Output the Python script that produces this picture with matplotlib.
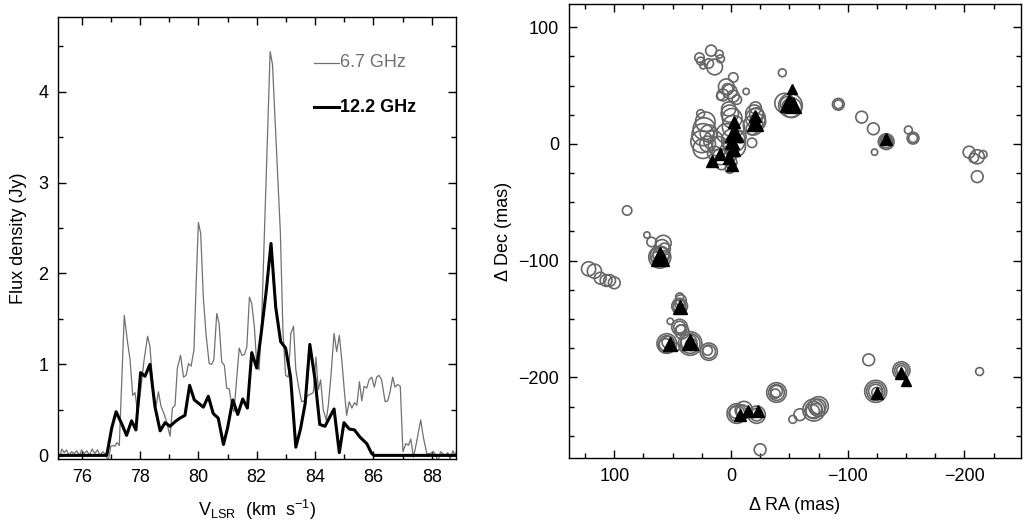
#maser spectrum and spot map
import matplotlib
matplotlib.use('Agg')
import matplotlib.pyplot as plt
from matplotlib.ticker import MultipleLocator

plt.rcParams['font.family'] = ['Liberation Sans', 'DejaVu Sans']
plt.rcParams['mathtext.default'] = 'regular'
plt.rcParams['font.size'] = 13

#6.7 GHz spectrum (km/s, Jy)
v67 = [75.15, 75.25, 75.32, 75.40, 75.48, 75.57, 75.65, 75.74, 75.83, 75.92,
       76.00, 76.09, 76.18, 76.27, 76.36, 76.45, 76.54, 76.63, 76.72, 76.80,
       76.91, 77.00, 77.08, 77.14, 77.21, 77.29, 77.46, 77.57, 77.66, 77.75,
       77.83, 77.92, 78.00, 78.14, 78.26, 78.34, 78.46, 78.55, 78.63, 78.72,
       78.82, 78.91, 79.03, 79.11, 79.20, 79.28, 79.39, 79.49, 79.58, 79.66,
       79.75, 79.85, 79.91, 80.00, 80.08, 80.17, 80.26, 80.37, 80.45, 80.53,
       80.63, 80.71, 80.80, 80.89, 80.97, 81.06, 81.14, 81.22, 81.31, 81.40,
       81.49, 81.58, 81.66, 81.75, 81.83, 81.92, 82.00, 82.08, 82.17, 82.46,
       82.54, 82.81, 82.90, 82.99, 83.08, 83.17, 83.26, 83.34, 83.43, 83.54,
       83.63, 83.75, 83.83, 83.94, 84.03, 84.11, 84.19, 84.28, 84.38, 84.45,
       84.54, 84.65, 84.74, 84.83, 84.92, 85.00, 85.08, 85.17, 85.26, 85.35,
       85.43, 85.52, 85.60, 85.68, 85.77, 85.85, 85.94, 86.03, 86.11, 86.19,
       86.28, 86.40, 86.49, 86.57, 86.66, 86.74, 86.83, 86.92, 87.01, 87.11,
       87.20, 87.28, 87.37, 87.45, 87.51, 87.62, 87.71, 87.83, 87.94, 88.06,
       88.14, 88.20, 88.30, 88.38, 88.46, 88.55, 88.63, 88.72, 88.80, 88.88]
f67 = [0.00, -0.02, 0.07, 0.03, 0.06, 0.00, 0.04, 0.02, 0.05, 0.00,
       0.06, 0.02, 0.05, 0.00, 0.07, 0.02, 0.06, 0.00, 0.04, 0.02,
       -0.06, 0.10, 0.11, 0.10, 0.14, 0.11, 1.54, 1.25, 1.05, 0.66,
       0.69, 0.46, 0.65, 1.05, 1.31, 1.20, 0.68, 0.54, 0.70, 0.54,
       0.46, 0.37, 0.21, 0.52, 0.55, 0.96, 1.10, 0.86, 0.88, 1.01,
       0.98, 1.16, 1.76, 2.56, 2.44, 1.74, 1.34, 1.01, 1.00, 1.05,
       1.56, 1.45, 1.03, 0.99, 0.74, 0.73, 0.55, 0.48, 0.83, 1.18,
       1.10, 1.11, 1.19, 1.74, 1.67, 1.41, 1.01, 0.94, 1.49, 4.44,
       4.30, 2.45, 1.35, 0.88, 0.86, 1.34, 1.42, 0.94, 0.76, 0.59,
       0.60, 0.66, 0.67, 0.69, 1.08, 0.72, 0.83, 0.50, 0.39, 0.54,
       0.86, 1.34, 1.14, 1.32, 1.03, 0.72, 0.44, 0.59, 0.52, 0.58,
       0.55, 0.81, 0.60, 0.76, 0.74, 0.83, 0.86, 0.75, 0.86, 0.88,
       0.83, 0.59, 0.60, 0.70, 0.86, 0.75, 0.78, 0.76, 0.04, 0.13,
       0.11, 0.18, -0.02, 0.10, 0.20, 0.39, 0.20, 0.02, 0.02, 0.04,
       0.00, -0.07, 0.04, 0.02, 0.00, 0.03, -0.04, 0.05, 0.00, 0.08]

#12.2 GHz spectrum (km/s, Jy)
v122 = [75.10, 76.86, 77.03, 77.18, 77.37, 77.54, 77.71, 77.86, 78.02, 78.17,
        78.34, 78.51, 78.69, 78.86, 79.03, 79.20, 79.37, 79.54, 79.70, 79.86,
        80.02, 80.17, 80.34, 80.51, 80.68, 80.86, 81.00, 81.18, 81.35, 81.52,
        81.68, 81.83, 82.00, 82.16, 82.33, 82.49, 82.65, 82.82, 82.99, 83.16,
        83.34, 83.50, 83.66, 83.82, 84.00, 84.16, 84.34, 84.50, 84.65, 84.83,
        84.99, 85.17, 85.35, 85.54, 85.77, 85.94, 86.02, 88.90]
f122 = [0.00, 0.00, 0.30, 0.48, 0.35, 0.22, 0.38, 0.28, 0.91, 0.87,
        1.00, 0.54, 0.27, 0.36, 0.32, 0.37, 0.41, 0.44, 0.77, 0.61,
        0.57, 0.53, 0.65, 0.46, 0.41, 0.12, 0.30, 0.61, 0.45, 0.62,
        0.52, 1.13, 0.96, 1.36, 1.82, 2.33, 1.63, 1.25, 1.18, 0.86,
        0.09, 0.29, 0.57, 1.22, 0.83, 0.34, 0.32, 0.42, 0.51, 0.03,
        0.36, 0.29, 0.28, 0.20, 0.13, 0.02, 0.00, 0.00]

#6.7 GHz spots: RA offset, Dec offset (mas), spot size
ra67 = [27, 26, 17, 10, 14, 19, 9, 24, -2, -13, -44,
        4, 1, 7, -2, -5, 9, 3, 26,
        22, 23, 24, 25, 24, 19, 15, 11, 9, 8, 20, 14,
        1, -1, -2, -2, -3, 1, 1, 4, -8, -18, 0, 2,
        -21, -20, -21, -19, -18, -22, -23,
        -46, -51, -52, -49, -50,
        -92, -92, -112, -122, -123, -133, -133, -133,
        -152, -156, -156, -204, -211, -216, -211, -208, 89,
        72, 68, 58, 59, 61, 61, 60, 62, 57,
        122, 117, 112, 107, 104, 100,
        44, 44, 44, 44, 43, 52, 44, 44, 42, 43,
        55, 55, 54, 56, 35, 35, 36, 34, 47, 19, 19, 20,
        -5, -5, -4, -11, -10, -22, -22, -25,
        -39, -39, -39, -38, -53, -59,
        -71, -71, -70, -75, -75, -73, -118,
        -124, -124, -124, -125, -146, -146, -146, -213]
dec67 = [74, 71, 80, 77, 66, 69, 73, 67, 57, 45, 61,
         49, 45, 42, 41, 38, 41, 47, 26,
         19, 13, 8, 2, -4, 9, 3, -2, -11, -17, 0, -8,
         26, 22, 15, 3, -2, -8, -21, 9, 6, 1, -16, 30,
         31, 26, 22, 16, 13, 25, 19,
         35, 33, 31, 34, 32,
         34, 34, 23, 13, -7, 2, 2, 3,
         12, 5, 5, -7, -11, -9, -28, -12, -57,
         -78, -84, -85, -88, -97, -96, -95, -98, -90,
         -107, -109, -115, -117, -117, -119,
         -139, -139, -137, -131, -134, -152, -157, -157, -161, -159,
         -171, -171, -170, -173, -171, -171, -170, -172, -174, -178, -178, -177,
         -231, -231, -230, -228, -229, -232, -232, -262,
         -213, -213, -212, -214, -236, -232,
         -228, -228, -229, -225, -225, -227, -185,
         -212, -212, -212, -213, -194, -194, -194, -195]
size67 = [12, 10, 14, 10, 20, 12, 10, 8, 12, 8, 10,
          20, 18, 15, 15, 12, 10, 14, 10,
          25, 28, 28, 28, 25, 22, 25, 25, 20, 15, 20, 18,
          22, 25, 28, 30, 28, 20, 12, 25, 15, 12, 15, 18,
          15, 22, 25, 25, 15, 18, 20,
          25, 30, 25, 20, 15,
          15, 11, 15, 15, 8, 20, 16, 12,
          10, 15, 11, 15, 18, 10, 15, 12, 12,
          8, 12, 20, 18, 28, 24, 20, 18, 15,
          18, 18, 15, 15, 15, 15,
          20, 16, 12, 10, 14, 8, 20, 15, 18, 12,
          25, 20, 15, 18, 30, 25, 20, 15, 10, 22, 17, 12,
          25, 20, 15, 22, 16, 22, 16, 15,
          25, 20, 15, 12, 10, 15,
          28, 22, 17, 25, 19, 14, 15,
          28, 23, 18, 13, 22, 17, 12, 10]

#12.2 GHz spots: RA offset, Dec offset (mas), spot size
ra122 = [-52, -50, -53, -3, -3, -1, -2, 2, -1, 9, 16, -21, -21, -133,
         61, 61, 44, 52, 35, -8, -15, -23, -125, -146, -150]
dec122 = [47, 35, 33, 19, 9, 2, -4, -12, -18, -9, -15, 18, 24, 4,
          -97, -94, -140, -171, -170, -232, -229, -229, -213, -196, -203]
size122 = [7, 13, 11, 8, 13, 10, 10, 8, 9, 8, 8, 12, 8, 8,
           13, 10, 10, 10, 12, 9, 9, 9, 8, 9, 7]

fig = plt.figure(figsize=(10.25, 5.24), dpi=100)
ax1 = fig.add_axes([0.0566, 0.124, 0.3883, 0.8436])
ax2 = fig.add_axes([0.5551, 0.126, 0.441, 0.8658])

#left panel: spectra
ax1.plot(v67, f67, color='#707070', lw=0.9)
ax1.plot(v122, f122, color='black', lw=2.2)
ax1.set_xlim(75.19, 88.83)
ax1.set_ylim(-0.04, 4.82)
ax1.xaxis.set_major_locator(MultipleLocator(2))
ax1.xaxis.set_minor_locator(MultipleLocator(1))
ax1.yaxis.set_major_locator(MultipleLocator(1))
ax1.yaxis.set_minor_locator(MultipleLocator(0.5))
ax1.set_xlabel('V$_{LSR}$  (km  s$^{-1}$)', labelpad=9)
ax1.set_ylabel('Flux density (Jy)', labelpad=8)

#legend by hand
ax1.plot([0.643, 0.706], [0.8965, 0.8965], color='#707070', lw=0.9, transform=ax1.transAxes)
ax1.text(0.708, 0.8965, '6.7 GHz', color='#707070', va='center', transform=ax1.transAxes)
ax1.plot([0.643, 0.706], [0.796, 0.796], color='black', lw=2.2, transform=ax1.transAxes)
ax1.text(0.708, 0.796, '12.2 GHz', color='black', weight='bold', va='center', transform=ax1.transAxes)

#right panel: spot map
ax2.scatter(ra67, dec67, s=[0.32 * r * r for r in size67], facecolors='none',
            edgecolors='#666666', linewidths=1.2, zorder=2)
for x, y, m in zip(ra122, dec122, size122):
    ax2.plot(x, y, marker='^', ms=m, color='black', mec='black', ls='none', zorder=3)
ax2.set_xlim(138.8, -248.5)
ax2.set_ylim(-269.1, 119.7)
ax2.xaxis.set_major_locator(MultipleLocator(100))
ax2.xaxis.set_minor_locator(MultipleLocator(25))
ax2.yaxis.set_major_locator(MultipleLocator(100))
ax2.yaxis.set_minor_locator(MultipleLocator(25))
ax2.set_xlabel('\u0394 RA (mas)', labelpad=9)
ax2.set_ylabel('\u0394 Dec (mas)', labelpad=5)

for ax in (ax1, ax2):
    ax.tick_params(which='both', direction='in', top=True, right=True, width=1.0, labelsize=13, pad=7)
    ax.tick_params(which='major', length=6)
    ax.tick_params(which='minor', length=3.5)
    for sp in ax.spines.values():
        sp.set_linewidth(1.0)

fig.savefig('out.png', dpi=100)
